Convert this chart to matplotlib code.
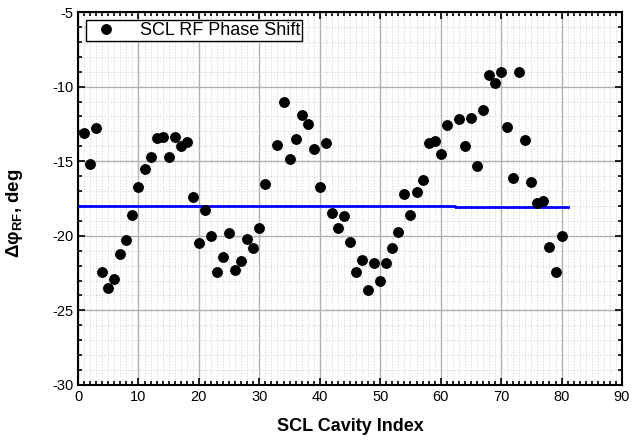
import matplotlib
matplotlib.use("Agg")
import matplotlib.pyplot as plt
from matplotlib.ticker import MultipleLocator

plt.rcParams['font.family'] = ['Liberation Sans', 'DejaVu Sans']
plt.rcParams['axes.unicode_minus'] = False
plt.rcParams['mathtext.fontset'] = 'custom'
plt.rcParams['mathtext.rm'] = 'Liberation Sans:bold'
plt.rcParams['mathtext.bf'] = 'Liberation Sans:bold'
plt.rcParams['mathtext.default'] = 'bf'

# cavity index and measured phase shift (deg)
cavity = [1, 2, 3, 4, 5, 6, 7, 8, 9, 10,
          11, 12, 13, 14, 15, 16, 17, 18, 19, 20,
          21, 22, 23, 24, 25, 26, 27, 28, 29, 30,
          31, 33, 34, 35, 36, 37, 38, 39, 40,
          41, 42, 43, 44, 45, 46, 47, 48, 49, 50,
          51, 52, 53, 54, 55, 56, 57, 58, 59, 60,
          61, 63, 64, 65, 66, 67, 68, 69, 70,
          71, 72, 73, 74, 75, 76, 77, 78, 79, 80]
phase = [-13.1, -15.2, -12.8, -22.4, -23.5, -22.9, -21.2, -20.3, -18.6, -16.7,
         -15.5, -14.7, -13.45, -13.4, -14.7, -13.35, -14.0, -13.7, -17.4, -20.5,
         -18.3, -20.0, -22.45, -21.4, -19.8, -22.3, -21.7, -20.2, -20.8, -19.5,
         -16.5, -13.9, -11.05, -14.85, -13.5, -11.9, -12.5, -14.2, -16.7,
         -13.8, -18.5, -19.5, -18.7, -20.45, -22.4, -21.6, -23.65, -21.8, -23.05,
         -21.8, -20.8, -19.75, -17.2, -18.6, -17.05, -16.25, -13.75, -13.65, -14.55,
         -12.6, -12.2, -14.0, -12.1, -15.3, -11.55, -9.2, -9.75, -9.0,
         -12.7, -16.1, -9.0, -13.6, -16.4, -17.8, -17.7, -20.75, -22.45, -20.0]

# reference (average) line
ref_x = [0, 62.3, 62.3, 81]
ref_y = [-18.0, -18.0, -18.07, -18.07]

fig = plt.figure(figsize=(6.37, 4.45), dpi=100)
ax = fig.add_axes([0.1225, 0.135, 0.854, 0.838])

ax.plot(ref_x, ref_y, color='#0000ff', lw=2, zorder=3)
ax.plot(cavity, phase, 'o', color='black', ms=6.8, zorder=4,
        label='SCL RF Phase Shift')

ax.set_xlim(0, 90)
ax.set_ylim(-30, -5)
ax.xaxis.set_major_locator(MultipleLocator(10))
ax.xaxis.set_minor_locator(MultipleLocator(1))
ax.yaxis.set_major_locator(MultipleLocator(5))
ax.yaxis.set_minor_locator(MultipleLocator(1))

ax.grid(which='major', color='#b0b0b0', lw=1.0, ls='-')
ax.grid(which='minor', color='#d0d0d0', lw=0.6, ls=(0, (1.5, 2)))
ax.set_axisbelow(True)

ax.tick_params(which='both', direction='in', top=True, right=True,
               labelsize=10.5, width=1.2)
ax.tick_params(which='major', length=5)
ax.tick_params(which='minor', length=3)
for s in ax.spines.values():
    s.set_linewidth(1.5)

ax.set_xlabel('SCL Cavity Index', fontsize=13, fontweight='bold', labelpad=10)
ax.set_ylabel('$Δφ_{RF}$, deg', fontsize=13.5, fontweight='bold')
ax.yaxis.set_label_coords(-0.098, 0.46)

leg = ax.legend(loc='upper left', bbox_to_anchor=(0.0145, 0.978),
                fontsize=13, frameon=True, fancybox=False, framealpha=1,
                edgecolor='black', borderpad=0.1, handletextpad=0.9,
                handlelength=2.0, borderaxespad=0)
leg.get_frame().set_linewidth(1.0)

fig.savefig('out.png', dpi=100)
